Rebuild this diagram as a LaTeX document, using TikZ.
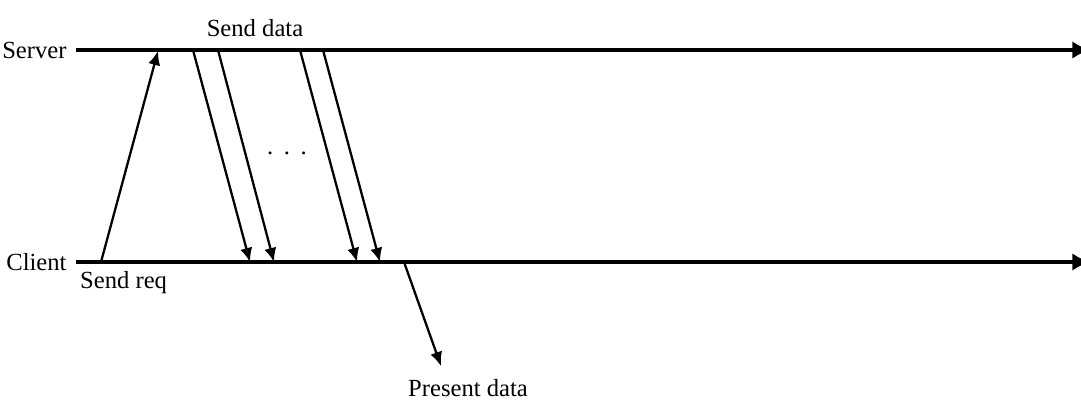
\documentclass[tikz,border=0pt]{standalone}
\usepackage{fontspec}
\setmainfont{Liberation Serif}
\usetikzlibrary{arrows.meta}
\begin{document}
\begin{tikzpicture}[x=0.01cm,y=-0.01cm,
  font=\fontsize{7}{9}\selectfont,
  timeline/.style={line width=0.9pt,-{Latex[length=5pt,width=5pt]}},
  msg/.style={line width=0.65pt,-{Latex[length=4pt,width=3.5pt]}}]
  \useasboundingbox (0,0) rectangle (1081,403);
  % 时间线
  \coordinate (s0) at (76,50);
  \coordinate (s1) at (1090,50);
  \coordinate (c0) at (76,262);
  \coordinate (c1) at (1090,262);
  \node[anchor=east,inner xsep=2.5pt,inner ysep=1pt] (server) at (s0) {Server};
  \node[anchor=east,inner xsep=2.5pt,inner ysep=1pt] (client) at (c0) {Client};
  \draw[timeline] (s0) -- (s1);
  \draw[timeline] (c0) -- (c1);
  % 请求
  \coordinate (req0) at (101,262);
  \coordinate (req1) at (158,51);
  \draw[msg] (req0) -- (req1);
  \node[anchor=north west,inner sep=1pt] (sendreq) at (76,267) {Send req};
  % 数据
  \node[inner sep=1pt] (senddata) at (255,28) {Send data};
  \foreach \a/\b [count=\i] in {193/250,218/274,300/357,323/380} {
    \coordinate (d\i a) at (\a,50);
    \coordinate (d\i b) at (\b,262);
    \draw[msg] (d\i a) -- (d\i b);
  }
  \node (dots) at (287,153) {.\hspace{3pt}.\hspace{3pt}.};
  % 显示
  \coordinate (p0) at (404,262);
  \coordinate (p1) at (441,366);
  \draw[msg] (p0) -- (p1);
  \node[inner sep=1pt] (present) at (468,388) {Present data};
\end{tikzpicture}
\end{document}
